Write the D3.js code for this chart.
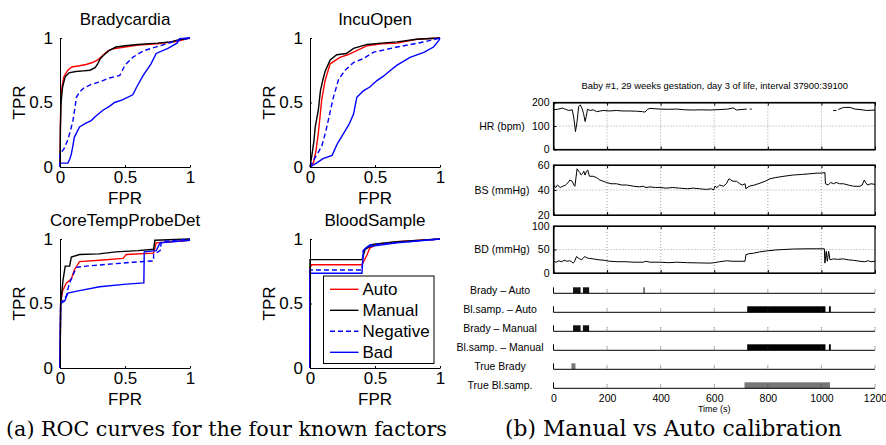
<!DOCTYPE html>
<html>
<head>
<meta charset="utf-8">
<script src="https://cdn.jsdelivr.net/npm/d3@7"></script>
<style>
  body { margin: 0; background: #fff; }
  svg { font-family: "Liberation Sans", Arial, sans-serif; }
</style>
</head>
<body>
<script>
// ---- ROC data: [FPR, TPR] ----
const bradyAuto = [[0,0],[0.003,0.3],[0.006,0.5],[0.015,0.62],[0.03,0.7],[0.06,0.75],[0.09,0.775],[0.15,0.785],[0.2,0.795],[0.25,0.81],[0.29,0.83],[0.33,0.866],[0.37,0.9],[0.41,0.917],[0.5,0.93],[0.6,0.945],[0.75,0.955],[0.9,0.975],[1,1]];
const bradyManual = [[0,0],[0.003,0.3],[0.008,0.5],[0.02,0.62],[0.04,0.7],[0.07,0.73],[0.12,0.74],[0.18,0.745],[0.23,0.75],[0.27,0.77],[0.29,0.8],[0.31,0.84],[0.34,0.87],[0.38,0.905],[0.43,0.93],[0.5,0.94],[0.6,0.95],[0.75,0.96],[0.85,0.97],[0.93,0.99],[1,1]];
const bradyNeg = [[0,0],[0,0.1],[0.03,0.14],[0.06,0.21],[0.08,0.28],[0.1,0.36],[0.115,0.46],[0.126,0.54],[0.15,0.58],[0.18,0.61],[0.24,0.64],[0.305,0.66],[0.38,0.69],[0.46,0.71],[0.48,0.75],[0.5,0.79],[0.56,0.85],[0.64,0.9],[0.77,0.94],[0.9,0.98],[1,1]];
const bradyBad = [[0,0],[0,0.03],[0.06,0.03],[0.075,0.06],[0.087,0.1],[0.1,0.17],[0.11,0.23],[0.13,0.27],[0.15,0.31],[0.2,0.34],[0.24,0.36],[0.27,0.39],[0.33,0.44],[0.38,0.47],[0.42,0.5],[0.48,0.52],[0.56,0.56],[0.59,0.62],[0.64,0.71],[0.7,0.8],[0.74,0.88],[0.83,0.92],[0.9,0.96],[0.92,0.995],[1,1]];

const incuAuto = [[0,0],[0.026,0.03],[0.045,0.12],[0.064,0.26],[0.08,0.42],[0.09,0.52],[0.116,0.67],[0.155,0.8],[0.23,0.85],[0.29,0.87],[0.335,0.89],[0.44,0.94],[0.55,0.955],[0.67,0.96],[0.82,0.99],[1,1]];
const incuManual = [[0,0],[0.013,0.08],[0.03,0.2],[0.04,0.31],[0.064,0.44],[0.08,0.59],[0.1,0.68],[0.116,0.74],[0.155,0.83],[0.206,0.87],[0.28,0.88],[0.335,0.92],[0.44,0.95],[0.55,0.96],[0.67,0.97],[0.82,0.99],[1,1]];
const incuNeg = [[0,0],[0.026,0.05],[0.09,0.16],[0.12,0.27],[0.14,0.36],[0.16,0.45],[0.18,0.54],[0.22,0.68],[0.27,0.75],[0.335,0.81],[0.41,0.84],[0.49,0.89],[0.67,0.93],[0.88,0.97],[1,1]];
const incuBad = [[0,0],[0.05,0.03],[0.1,0.065],[0.17,0.09],[0.21,0.18],[0.27,0.28],[0.3,0.33],[0.335,0.41],[0.36,0.54],[0.41,0.59],[0.46,0.62],[0.515,0.67],[0.56,0.7],[0.62,0.75],[0.67,0.79],[0.77,0.85],[0.88,0.89],[0.95,0.93],[0.99,0.98],[1,1]];

const coreAuto = [[0,0],[0.005,0.5],[0.02,0.6],[0.05,0.66],[0.087,0.69],[0.11,0.76],[0.15,0.825],[0.305,0.835],[0.485,0.85],[0.51,0.88],[0.72,0.89],[0.74,0.97],[1,0.99]];
const coreManual = [[0,0],[0.005,0.5],[0.023,0.68],[0.04,0.79],[0.074,0.79],[0.087,0.86],[0.15,0.88],[0.3,0.885],[0.43,0.9],[0.6,0.91],[0.72,0.92],[0.73,0.99],[1,1]];
const coreNeg = [[0,0],[0.005,0.5],[0.05,0.56],[0.06,0.61],[0.074,0.66],[0.126,0.78],[0.2,0.79],[0.56,0.82],[0.72,0.83],[0.72,0.88],[0.77,0.91],[0.78,0.98],[1,1]];
const coreBad = [[0,0],[0.005,0.5],[0.036,0.52],[0.06,0.58],[0.15,0.6],[0.305,0.63],[0.51,0.65],[0.645,0.66],[0.648,0.9],[0.74,0.91],[0.77,0.97],[1,0.99]];

const bloodAuto = [[0,0],[0,0.78],[0.013,0.8],[0.4,0.8],[0.44,0.88],[0.46,0.93],[0.515,0.96],[0.67,0.98],[1,1]];
const bloodManual = [[0,0],[0,0.84],[0.4,0.84],[0.425,0.92],[0.49,0.96],[0.67,0.98],[1,1]];
const bloodNeg = [[0,0],[0,0.76],[0.4,0.76],[0.41,0.91],[0.46,0.955],[1,1]];
const bloodBad = [[0,0],[0,0.735],[0.4,0.735],[0.41,0.91],[0.44,0.94],[0.67,0.97],[1,1]];

const rocTitles = ["Bradycardia", "IncuOpen", "CoreTempProbeDet", "BloodSample"];
const seriesNames = ["Auto", "Manual", "Negative", "Bad"];
const rocTicks = [0, 0.5, 1];

// ---- monitoring data: [time (s), value] ----
const hrData = [[0,169],[15,171],[33,176],[45,171],[57,166],[70,169],[76,133],[82,76],[88,119],[94,183],[100,190],[106,176],[112,154],[118,119],[122,140],[127,171],[137,166],[149,169],[161,161],[185,166],[210,164],[234,166],[259,164],[283,164],[310,163],[332,161],[341,159],[350,170],[360,175],[397,172],[430,171],[459,172],[490,169],[522,168],[550,169],[584,168],[621,170],[650,172],[671,177],[683,168],[700,170],[721,172],[722,null],[733,172],[740,172],[741,null],[1044,166],[1056,166],[1057,null],[1063,170],[1082,179],[1107,179],[1125,172],[1144,170],[1169,166],[1200,168]];
const bsData = [[0,44],[8,42],[15,44],[25,42],[35,43],[45,44],[55,46],[61,48],[70,47],[76,44],[80,43],[84,50],[88,57],[94,55],[98,54],[103,52],[108,53],[113,55],[118,52],[123,55],[128,56],[134,51],[148,51],[160,50],[173,48],[185,47],[198,46],[215,45],[235,45],[255,44],[273,44],[300,43],[320,42.5],[335,43],[345,42],[360,42.5],[380,42],[397,42],[420,41.5],[445,42],[470,41.5],[500,41],[521,41.5],[545,41],[570,40.5],[590,41],[597,40],[603,43],[610,42],[620,44],[634,43],[645,45],[655,49],[662,48],[670,47],[683,47],[695,45],[705,44],[715,45],[718,41],[730,43],[750,44],[771,45.5],[790,47],[808,49],[830,50],[860,51],[895,52],[930,52.5],[957,53],[985,53.5],[1000,53.5],[1013,54],[1015,45],[1025,44],[1035,46],[1045,45],[1055,46],[1068,45],[1082,45],[1100,44],[1120,43],[1144,43],[1152,44],[1160,48],[1165,46],[1172,44],[1185,45],[1200,44.5]];
const bdData = [[0,25],[10,23],[20,26],[30,24],[40,27],[50,25],[60,26],[68,24],[73,21],[78,24],[86,35],[92,32],[98,30],[105,28],[112,33],[118,35],[125,32],[135,31],[148,30],[170,28],[190,27],[210,25],[240,24],[270,24],[300,23],[335,23],[345,25],[360,23],[400,23],[430,22],[460,23],[500,22],[540,21.5],[584,21],[600,22],[620,24],[646,26],[670,25],[700,25],[715,25],[718,39],[730,41],[746,42],[770,45],[796,47],[830,49],[860,50],[895,51],[950,51.5],[1011,51.5],[1013,21],[1018,46],[1022,25],[1027,46],[1032,28],[1045,30],[1060,29],[1082,30],[1100,28],[1120,27],[1144,25],[1160,24],[1175,26],[1185,24],[1200,25]];

const signalLabels = ["HR (bpm)", "BS (mmHg)", "BD (mmHg)"];
const signalDomains = [[0, 200], [20, 60], [0, 100]];
const signalTicks = [[0, 100, 200], [20, 40, 60], [0, 50, 100]];

// event rows: [start, end] in seconds
const eventLabels = ["Brady \u2013 Auto", "Bl.samp. \u2013 Auto", "Brady \u2013 Manual", "Bl.samp. \u2013 Manual", "True Brady", "True Bl.samp."];
const bradyAutoEvents = [[73, 101], [110, 133]];
const bradyAutoMarks = [338];
const bloodAutoEvents = [[723, 1015], [1028, 1035]];
const bradyManualEvents = [[73, 101], [110, 133]];
const bloodManualEvents = [[723, 1015], [1028, 1035]];
const trueBradyEvents = [[67, 82]];
const trueBloodEvents = [[713, 1032]];
const timeTicks = [0, 200, 400, 600, 800, 1000, 1200];

const W = 886, H = 445;
const svg = d3.select("body").append("svg").attr("width", W).attr("height", H);

function fitWidth(sel, target) {
  const size = parseFloat(sel.attr("font-size"));
  const w = sel.node().getComputedTextLength();
  sel.attr("font-size", (size * target / w).toFixed(2));
}

// ================= (a) ROC curves =================
const rocCurves = [
  [bradyAuto, bradyManual, bradyNeg, bradyBad],
  [incuAuto, incuManual, incuNeg, incuBad],
  [coreAuto, coreManual, coreNeg, coreBad],
  [bloodAuto, bloodManual, bloodNeg, bloodBad]
];
const seriesStyle = [
  { color: "#ff0000", dash: null },
  { color: "#000000", dash: null },
  { color: "#0000ff", dash: "5,3" },
  { color: "#0000ff", dash: null }
];
const panelPos = [[60, 38], [310, 38], [60, 239], [310, 239]];
const pw = 130, ph = 129;

rocCurves.forEach((curves, i) => {
  const [px, py] = panelPos[i];
  const g = svg.append("g").attr("transform", `translate(${px},${py})`);
  const x = d3.scaleLinear().domain([0, 1]).range([0, pw]);
  const y = d3.scaleLinear().domain([0, 1]).range([ph, 0]);

  const line = d3.line().x(d => x(d[0])).y(d => y(d[1]));
  curves.forEach((c, j) => {
    g.append("path")
      .datum(c)
      .attr("d", line)
      .attr("fill", "none")
      .attr("stroke", seriesStyle[j].color)
      .attr("stroke-width", 1.4)
      .attr("stroke-dasharray", seriesStyle[j].dash);
  });

  const fmt = d => d3.format("")(d);
  g.append("g")
    .attr("transform", `translate(0,${ph})`)
    .call(d3.axisBottom(x).tickValues(rocTicks).tickFormat(fmt).tickSizeInner(-2).tickSizeOuter(0).tickPadding(4))
    .call(a => a.selectAll("text").attr("font-size", 17).attr("font-family", "Liberation Sans, Arial, sans-serif").attr("fill", "#000"));
  g.append("g")
    .call(d3.axisLeft(y).tickValues(rocTicks).tickFormat(fmt).tickSizeInner(-2).tickSizeOuter(0).tickPadding(7))
    .call(a => a.selectAll("text").attr("font-size", 17).attr("font-family", "Liberation Sans, Arial, sans-serif").attr("fill", "#000"));

  g.append("text")
    .attr("x", pw / 2).attr("y", -13)
    .attr("text-anchor", "middle")
    .attr("font-size", 17)
    .text(rocTitles[i]);
  g.append("text")
    .attr("x", pw / 2).attr("y", ph + 37)
    .attr("text-anchor", "middle")
    .attr("font-size", 17)
    .text("FPR");
  g.append("text")
    .attr("transform", `translate(-35,${ph / 2}) rotate(-90)`)
    .attr("text-anchor", "middle")
    .attr("font-size", 17)
    .text("TPR");
});

// legend inside BloodSample
const leg = svg.append("g").attr("transform", "translate(323.5,276)");
leg.append("rect").attr("width", 110.5).attr("height", 87.5)
  .attr("fill", "#fff").attr("stroke", "#000").attr("stroke-width", 1);
seriesNames.forEach((name, j) => {
  const ly = 13.3 + j * 21;
  leg.append("line")
    .attr("x1", 6.5).attr("x2", 35).attr("y1", ly).attr("y2", ly)
    .attr("stroke", seriesStyle[j].color).attr("stroke-width", 1.4)
    .attr("stroke-dasharray", seriesStyle[j].dash);
  leg.append("text")
    .attr("x", 39).attr("y", ly)
    .attr("dy", "0.35em")
    .attr("font-size", 17)
    .text(name);
});

// ================= (b) monitoring traces =================
const tx0 = 553.5, tx1 = 875;
const xt = d3.scaleLinear().domain([0, 1200]).range([tx0, tx1]);
const fsR = 10.5;

svg.append("text")
  .attr("x", (tx0 + tx1) / 2 + 0.5).attr("y", 89)
  .attr("text-anchor", "middle")
  .attr("font-size", 10)
  .text("Baby #1, 29 weeks gestation, day 3 of life, interval 37900:39100")
  .call(s => fitWidth(s, 267));

const signalData = [hrData, bsData, bdData];
const signalBox = [[102.5, 149.5], [165, 215], [226, 273]];

signalData.forEach((data, i) => {
  const [top, bottom] = signalBox[i];
  const y = d3.scaleLinear().domain(signalDomains[i]).range([bottom, top]);
  const g = svg.append("g");

  // dotted grid
  g.selectAll(".vgrid")
    .data(timeTicks.slice(1, -1))
    .join("line")
    .attr("x1", d => xt(d)).attr("x2", d => xt(d))
    .attr("y1", top).attr("y2", bottom)
    .attr("stroke", "#888").attr("stroke-width", 0.8).attr("stroke-dasharray", "1,2");
  g.append("line")
    .attr("x1", tx0).attr("x2", tx1)
    .attr("y1", y(signalTicks[i][1])).attr("y2", y(signalTicks[i][1]))
    .attr("stroke", "#888").attr("stroke-width", 0.8).attr("stroke-dasharray", "1,2");

  g.append("path")
    .datum(data)
    .attr("d", d3.line().defined(d => d[1] != null).x(d => xt(d[0])).y(d => y(d[1])))
    .attr("fill", "none").attr("stroke", "#000").attr("stroke-width", 1);

  // inward ticks on x
  g.append("g")
    .attr("transform", `translate(0,${bottom})`)
    .call(d3.axisBottom(xt).tickValues(timeTicks).tickFormat("").tickSizeInner(-3).tickSizeOuter(0));
  g.append("g")
    .attr("transform", `translate(0,${top})`)
    .call(d3.axisTop(xt).tickValues(timeTicks).tickFormat("").tickSizeInner(-3).tickSizeOuter(0));
  g.append("g")
    .attr("transform", `translate(${tx0},0)`)
    .call(d3.axisLeft(y).tickValues(signalTicks[i]).tickSizeInner(-3).tickSizeOuter(0).tickPadding(4))
    .call(a => a.selectAll("text").attr("font-size", fsR).attr("font-family", "Liberation Sans, Arial, sans-serif").attr("fill", "#000"));

  g.append("rect")
    .attr("x", tx0).attr("y", top)
    .attr("width", tx1 - tx0).attr("height", bottom - top)
    .attr("fill", "none").attr("stroke", "#000").attr("stroke-width", 1.2);

  g.append("text")
    .attr("x", 502).attr("y", (top + bottom) / 2)
    .attr("dy", "0.35em")
    .attr("text-anchor", "middle")
    .attr("font-size", fsR)
    .text(signalLabels[i]);
});

// event rows
const eventRows = [bradyAutoEvents, bloodAutoEvents, bradyManualEvents, bloodManualEvents, trueBradyEvents, trueBloodEvents];
const eventFill = ["#111", "#000", "#111", "#000", "#777", "#777"];
const row0 = 293.3, rowGap = 19;

eventRows.forEach((events, i) => {
  const by = row0 + i * rowGap;
  const g = svg.append("g");
  g.selectAll("rect")
    .data(events)
    .join("rect")
    .attr("x", d => xt(d[0])).attr("width", d => xt(d[1]) - xt(d[0]))
    .attr("y", by - 6).attr("height", 6)
    .attr("fill", eventFill[i]);
  if (i === 0) {
    g.selectAll(".mark")
      .data(bradyAutoMarks)
      .join("line")
      .attr("x1", d => xt(d)).attr("x2", d => xt(d))
      .attr("y1", by - 6).attr("y2", by)
      .attr("stroke", "#000").attr("stroke-width", 1);
  }
  g.append("line")
    .attr("x1", tx0).attr("x2", tx1).attr("y1", by).attr("y2", by)
    .attr("stroke", "#000").attr("stroke-width", 1);
  g.append("line")
    .attr("x1", tx0).attr("x2", tx0).attr("y1", by - 6).attr("y2", by)
    .attr("stroke", "#000").attr("stroke-width", 1);
  g.selectAll(".tk")
    .data(timeTicks.slice(1))
    .join("line")
    .attr("x1", d => xt(d)).attr("x2", d => xt(d))
    .attr("y1", by - 4).attr("y2", by)
    .attr("stroke", "#333").attr("stroke-width", 0.8).attr("stroke-dasharray", "1,1");
  g.append("text")
    .attr("x", 500).attr("y", by - 3)
    .attr("dy", "0.35em")
    .attr("text-anchor", "middle")
    .attr("font-size", fsR)
    .text(eventLabels[i]);
});

// time axis labels
const lastRow = row0 + 5 * rowGap;
svg.append("g")
  .attr("transform", `translate(0,${lastRow})`)
  .call(d3.axisBottom(xt).tickValues(timeTicks).tickFormat(d3.format("d")).tickSize(0).tickPadding(6))
  .call(a => a.select(".domain").remove())
  .call(a => a.selectAll("text").attr("font-size", fsR).attr("font-family", "Liberation Sans, Arial, sans-serif").attr("fill", "#000"));
svg.append("text")
  .attr("x", (tx0 + tx1) / 2).attr("y", 412)
  .attr("text-anchor", "middle")
  .attr("font-size", 9)
  .text("Time (s)");

// ================= captions =================
svg.append("text")
  .attr("x", 226.5).attr("y", 436)
  .attr("text-anchor", "middle")
  .attr("font-family", "DejaVu Serif, Liberation Serif, serif")
  .attr("font-size", 17)
  .text("(a) ROC curves for the four known factors")
  .call(s => fitWidth(s, 441));
svg.append("text")
  .attr("x", 673.5).attr("y", 436)
  .attr("text-anchor", "middle")
  .attr("font-family", "DejaVu Serif, Liberation Serif, serif")
  .attr("font-size", 17)
  .text("(b) Manual vs Auto calibration")
  .call(s => fitWidth(s, 337));
</script>
</body>
</html>
